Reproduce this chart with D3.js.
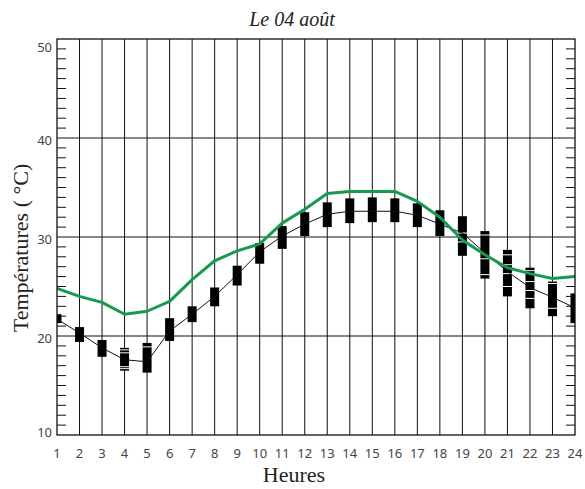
<!DOCTYPE html>
<html><head><meta charset="utf-8">
<script src="https://cdn.jsdelivr.net/npm/d3@7"></script>
<style>body{margin:0;background:#fff}</style>
</head><body>
<svg id="c" width="585" height="489"></svg>
<script>
const hours = d3.range(1, 25);
const observed = [24.8, 24.0, 23.4, 22.2, 22.5, 23.5, 25.7, 27.6, 28.6, 29.3, 31.4, 32.8, 34.4, 34.6, 34.6, 34.6, 33.6, 32.0, 29.7, 28.2, 26.9, 26.3, 25.8, 26.0];
const meanForecast = [21.7, 20.3, 18.8, 17.6, 17.4, 20.5, 22.2, 24.0, 26.2, 28.5, 30.1, 31.3, 32.3, 32.6, 32.6, 32.6, 32.2, 31.3, 30.4, 28.4, 26.5, 24.9, 23.9, 22.85];
const boxMax = [22.2, 20.9, 19.6, 18.8, 19.3, 21.8, 23.0, 24.9, 27.1, 29.4, 31.1, 32.5, 33.5, 33.9, 34.0, 33.9, 33.4, 32.7, 32.1, 30.6, 28.7, 26.9, 25.5, 24.3];
const boxMin = [21.3, 19.4, 17.9, 16.5, 16.3, 19.5, 21.4, 23.0, 25.1, 27.3, 28.8, 30.1, 31.0, 31.4, 31.5, 31.5, 31.0, 30.1, 28.1, 25.8, 24.0, 22.8, 22.0, 21.3];
const stripeHours = [4, 4, 4, 4, 5, 19, 19, 20, 20, 20, 21, 21, 21, 21, 22, 22, 22, 22, 23, 23];
const stripeTemps = [18.6, 18.3, 16.9, 16.7, 18.9, 30.4, 29.5, 30.2, 27.8, 26.2, 28.2, 27.2, 26.3, 25.0, 26.6, 25.5, 24.6, 23.8, 25.3, 22.8];
const yMajor = [10, 20, 30, 40, 50];
const title = "Le 04 août";
const xTitle = "Heures";
const yTitle = "Températures ( °C)";

const L = 57, R = 575, T = 39, B = 435;
const svg = d3.select("#c");
const x = d3.scaleLinear().domain([1, 24]).range([L, R]);
const y = d3.scaleLinear().domain([10, 50]).range([B, T]);

svg.append("defs").append("clipPath").attr("id", "clip")
  .append("rect").attr("x", L).attr("y", T).attr("width", R - L).attr("height", B - T);

svg.append("g").selectAll("line").data(hours.slice(1, -1)).join("line")
  .attr("x1", d => x(d)).attr("x2", d => x(d)).attr("y1", T).attr("y2", B)
  .attr("stroke", "#111").attr("stroke-width", 1);
svg.append("g").selectAll("line").data([20, 30, 40]).join("line")
  .attr("x1", L).attr("x2", R).attr("y1", d => y(d)).attr("y2", d => y(d))
  .attr("stroke", "#111").attr("stroke-width", 1);
const minor = d3.range(11, 50).filter(v => v % 10 !== 0);
svg.append("g").selectAll("line").data(minor).join("line")
  .attr("x1", L).attr("x2", L + 9).attr("y1", d => y(d)).attr("y2", d => y(d))
  .attr("stroke", "#111").attr("stroke-width", 1);
svg.append("g").selectAll("line").data(minor).join("line")
  .attr("x1", R).attr("x2", R - 9).attr("y1", d => y(d)).attr("y2", d => y(d))
  .attr("stroke", "#111").attr("stroke-width", 1);

const plot = svg.append("g").attr("clip-path", "url(#clip)");
plot.selectAll("rect.box").data(hours).join("rect").attr("class", "box")
  .attr("x", d => x(d) - 4.5).attr("width", 9)
  .attr("y", (d, i) => y(boxMax[i])).attr("height", (d, i) => y(boxMin[i]) - y(boxMax[i]))
  .attr("fill", "#000");
plot.selectAll("line.stripe").data(stripeHours).join("line").attr("class", "stripe")
  .attr("x1", d => x(d) - 4.5).attr("x2", d => x(d) + 4.5)
  .attr("y1", (d, i) => y(stripeTemps[i])).attr("y2", (d, i) => y(stripeTemps[i]))
  .attr("stroke", "#fff").attr("stroke-width", 1);
plot.append("path").datum(meanForecast)
  .attr("d", d3.line().x((d, i) => x(hours[i])).y(d => y(d)))
  .attr("fill", "none").attr("stroke", "#111").attr("stroke-width", 1);
plot.append("path").datum(observed)
  .attr("d", d3.line().x((d, i) => x(hours[i])).y(d => y(d)))
  .attr("fill", "none").attr("stroke", "#179a50").attr("stroke-width", 3)
  .attr("stroke-linejoin", "round");

svg.append("rect").attr("x", L).attr("y", T).attr("width", R - L).attr("height", B - T)
  .attr("fill", "none").attr("stroke", "#111").attr("stroke-width", 1.3);

svg.append("g").selectAll("text").data(yMajor).join("text")
  .attr("x", 52).attr("y", d => Math.min(B - 3, Math.max(T + 8, y(d) + 2)))
  .attr("dy", "0.35em").attr("text-anchor", "end")
  .attr("font-family", "Noto Sans, sans-serif").attr("font-size", 13).attr("fill", "#444")
  .text(d => d);
svg.append("g").selectAll("text").data(hours).join("text")
  .attr("x", d => x(d)).attr("y", 458).attr("text-anchor", "middle")
  .attr("font-family", "Noto Sans, sans-serif").attr("font-size", 13).attr("fill", "#444")
  .text(d => d);

svg.append("text").attr("x", 292).attr("y", 26).attr("text-anchor", "middle")
  .attr("font-family", "Liberation Serif, serif").attr("font-style", "italic")
  .attr("font-size", 20).attr("fill", "#222").text(title);
svg.append("text").attr("x", 294).attr("y", 482).attr("text-anchor", "middle")
  .attr("font-family", "Liberation Serif, serif").attr("font-size", 22).attr("fill", "#222").text(xTitle);
svg.append("text").attr("transform", "translate(28,248) rotate(-90)").attr("text-anchor", "middle")
  .attr("font-family", "Liberation Serif, serif").attr("font-size", 22).attr("fill", "#222").text(yTitle);
</script>
</body></html>
